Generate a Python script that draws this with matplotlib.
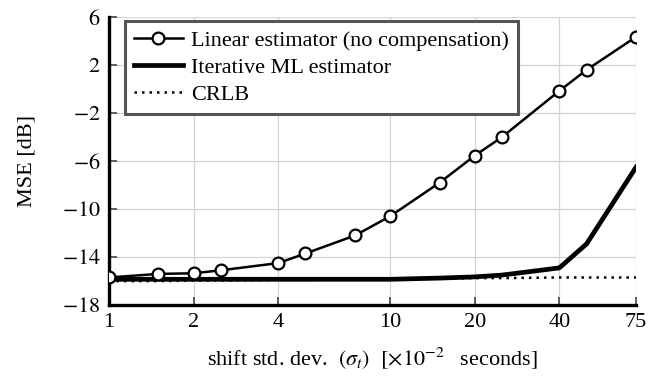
import matplotlib
matplotlib.use("Agg")
import matplotlib.pyplot as plt
from matplotlib.ticker import FixedLocator, FixedFormatter, NullLocator

plt.rcParams['font.family'] = ['Liberation Serif', 'DejaVu Serif']
plt.rcParams['mathtext.fontset'] = 'stix'

sigma = [1, 1.5, 2, 2.5, 4, 5, 7.5, 10, 15, 20, 25, 40, 50, 75]
linear_mse = [-15.7, -15.4, -15.35, -15.1, -14.5, -13.7, -12.2, -10.6, -7.8, -5.55, -4.0, -0.15, 1.6, 4.35]
ml_mse = [-15.85, -15.85, -15.85, -15.85, -15.85, -15.85, -15.85, -15.85, -15.75, -15.65, -15.5, -14.9, -12.9, -6.5]
crlb = [-16.0, -16.0, -15.95, -15.95, -15.9, -15.9, -15.85, -15.85, -15.8, -15.75, -15.75, -15.7, -15.7, -15.7]

xticks = [1, 2, 4, 10, 20, 40, 75]
xtick_labels = ['1', '2', '4', '10', '20', '40', '75']
yticks = [-18, -14, -10, -6, -2, 2, 6]
ytick_labels = [r'$-18$', r'$-14$', r'$-10$', r'$-6$', r'$-2$', r'$2$', r'$6$']

fig = plt.figure(figsize=(6.71, 3.79), dpi=100)
ax = fig.add_axes([0.1624, 0.195, 0.7856, 0.76])

ax.plot(sigma, linear_mse, color='black', lw=1.8, marker='o', ms=8.5,
        mfc='white', mec='black', mew=1.6, label='Linear estimator (no compensation)', zorder=4)
ax.plot(sigma, ml_mse, color='black', lw=3.4, label='Iterative ML estimator', zorder=3)
ax.plot(sigma, crlb, color='black', lw=1.8, ls=(0, (1, 2)), label='CRLB', zorder=2)

ax.set_xscale('log')
ax.set_xlim(1, 75)
ax.set_ylim(-18, 6)
ax.xaxis.set_major_locator(FixedLocator(xticks))
ax.xaxis.set_major_formatter(FixedFormatter(xtick_labels))
ax.xaxis.set_minor_locator(NullLocator())
ax.yaxis.set_major_locator(FixedLocator(yticks))
ax.yaxis.set_major_formatter(FixedFormatter(ytick_labels))

ax.grid(True, color='#d3d3d3', lw=0.9)
ax.set_axisbelow(True)
for s in ['top', 'right']:
    ax.spines[s].set_visible(False)
for s in ['left', 'bottom']:
    ax.spines[s].set_linewidth(2.4)
ax.tick_params(direction='in', length=6, width=1.2, color='#444444', labelsize=16, pad=6)

ax.set_xlabel(r'shift std. dev.  $(\sigma_t)$  $[\times 10^{-2}\;$  seconds$]$', fontsize=16, labelpad=9)
ax.set_ylabel('MSE [dB]', fontsize=16)
ax.yaxis.set_label_coords(-0.137, 0.5)

leg = ax.legend(loc='upper left', bbox_to_anchor=(0.03, 0.985), borderaxespad=0,
                fontsize=16, fancybox=False, framealpha=1, handlelength=2.2,
                handletextpad=0.4, labelspacing=0.3, borderpad=0.4)
leg.get_frame().set_edgecolor('#555555')
leg.get_frame().set_linewidth(2.2)

fig.savefig('out.png', dpi=100)
